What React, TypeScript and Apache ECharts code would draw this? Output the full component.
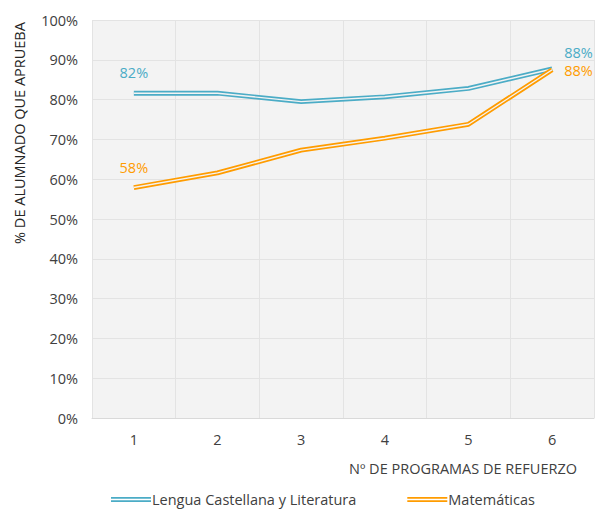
import React, { useEffect, useRef } from "react";
import * as echarts from "echarts";

const categories = ["1", "2", "3", "4", "5", "6"];
const lengua = [81.6, 81.6, 79.5, 80.7, 82.8, 87.7];
const matematicas = [57.9, 61.6, 67.3, 70.3, 73.8, 87.5];
const yTicks = [0, 10, 20, 30, 40, 50, 60, 70, 80, 90, 100];

const seriesNames = ["Lengua Castellana y Literatura", "Matemáticas"];
const yTitle = "% DE ALUMNADO QUE APRUEBA";
const xTitle = "Nº DE PROGRAMAS DE REFUERZO";

const BLUE = "#4bacc6";
const ORANGE = "#ff9c00";
const FONT = "'Open Sans'";
const FS = 14.5;
const TEXT = "#404040";

const dblIcon = "path://M0,0H40V1.6H0Z M0,3.2H40V4.8H0Z";

function labelFor(color: string, lastOffset: number[]) {
  return (idx: number, len: number) => {
    const base = {
      color,
      fontFamily: FONT,
      fontSize: FS,
      formatter: (p: any) => Math.round(p.value) + "%",
    };
    if (idx === 0) return { ...base, show: true, position: "top", distance: 13 };
    if (idx === len - 1) return { ...base, show: true, position: "right", distance: 12, offset: lastOffset };
    return { show: false };
  };
}

function buildData(values: number[], color: string, lastOffset: number[]) {
  const lf = labelFor(color, lastOffset);
  return values.map((v, i) => ({ value: v, label: lf(i, values.length) }));
}

export default function App() {
  const ref = useRef<HTMLDivElement>(null);
  useEffect(() => {
    if (!ref.current) return;
    const chart = echarts.init(ref.current, undefined, { renderer: "svg" });
    const lineBase = (name: string, data: any[], color: string, width: number, z: number, withLabels: boolean) => ({
      name,
      type: "line",
      data,
      symbol: withLabels ? "circle" : "none",
      symbolSize: 0.01,
      showSymbol: withLabels,
      smooth: false,
      z,
      lineStyle: { color, width },
      itemStyle: { color },
      emphasis: { disabled: true },
    });
    chart.setOption({
      animation: false,
      backgroundColor: "#ffffff",
      grid: {
        left: 92,
        top: 20,
        right: 2,
        bottom: 94,
        show: true,
        backgroundColor: "#f3f3f3",
        borderColor: "#d9d9d9",
        borderWidth: 0,
      },
      xAxis: {
        type: "category",
        data: categories,
        boundaryGap: true,
        axisLine: { show: true, lineStyle: { color: "#d9d9d9", width: 1 } },
        axisTick: { show: false },
        axisLabel: { color: TEXT, fontFamily: FONT, fontSize: FS, margin: 14 },
        splitLine: { show: true, lineStyle: { color: "#e3e3e3", width: 1 } },
      },
      yAxis: {
        type: "value",
        min: 0,
        max: 100,
        interval: 10,
        axisLine: { show: false },
        axisTick: { show: false },
        axisLabel: {
          color: TEXT,
          fontFamily: FONT,
          fontSize: FS,
          margin: 14,
          formatter: (v: number) => (yTicks.includes(v) ? v + "%" : ""),
        },
        splitLine: { show: true, lineStyle: { color: "#e3e3e3", width: 1 } },
      },
      legend: {
        bottom: 0,
        left: 106,
        itemGap: 51,
        itemWidth: 40,
        itemHeight: 5,
        icon: dblIcon,
        data: [
          { name: seriesNames[0], itemStyle: { color: BLUE } },
          { name: seriesNames[1], itemStyle: { color: ORANGE } },
        ],
        textStyle: { color: TEXT, fontFamily: FONT, fontSize: FS, padding: [0, 0, 0, -4] },
      },
      series: [
        lineBase(seriesNames[0], buildData(lengua, BLUE, [0, -16]), BLUE, 4.8, 2, true),
        lineBase("lengua-inner", lengua, "#f3f3f3", 1.4, 3, false),
        lineBase(seriesNames[1], buildData(matematicas, ORANGE, [0, 1]), ORANGE, 4.8, 4, true),
        lineBase("mat-inner", matematicas, "#f3f3f3", 1.4, 5, false),
      ],
      graphic: [
        {
          type: "text",
          x: 19,
          y: 133,
          rotation: Math.PI / 2,
          style: {
            text: yTitle,
            fill: "#262626",
            font: `${FS}px ${FONT}`,
            textAlign: "center",
            textVerticalAlign: "middle",
          },
        },
        {
          type: "text",
          x: 463,
          y: 468,
          style: {
            text: xTitle,
            fill: TEXT,
            font: `${FS}px ${FONT}`,
            textAlign: "center",
            textVerticalAlign: "middle",
          },
        },
      ],
    });
    return () => chart.dispose();
  }, []);
  return <div ref={ref} style={{ width: 596, height: 512, position: "absolute", left: 0, top: 0 }} />;
}
